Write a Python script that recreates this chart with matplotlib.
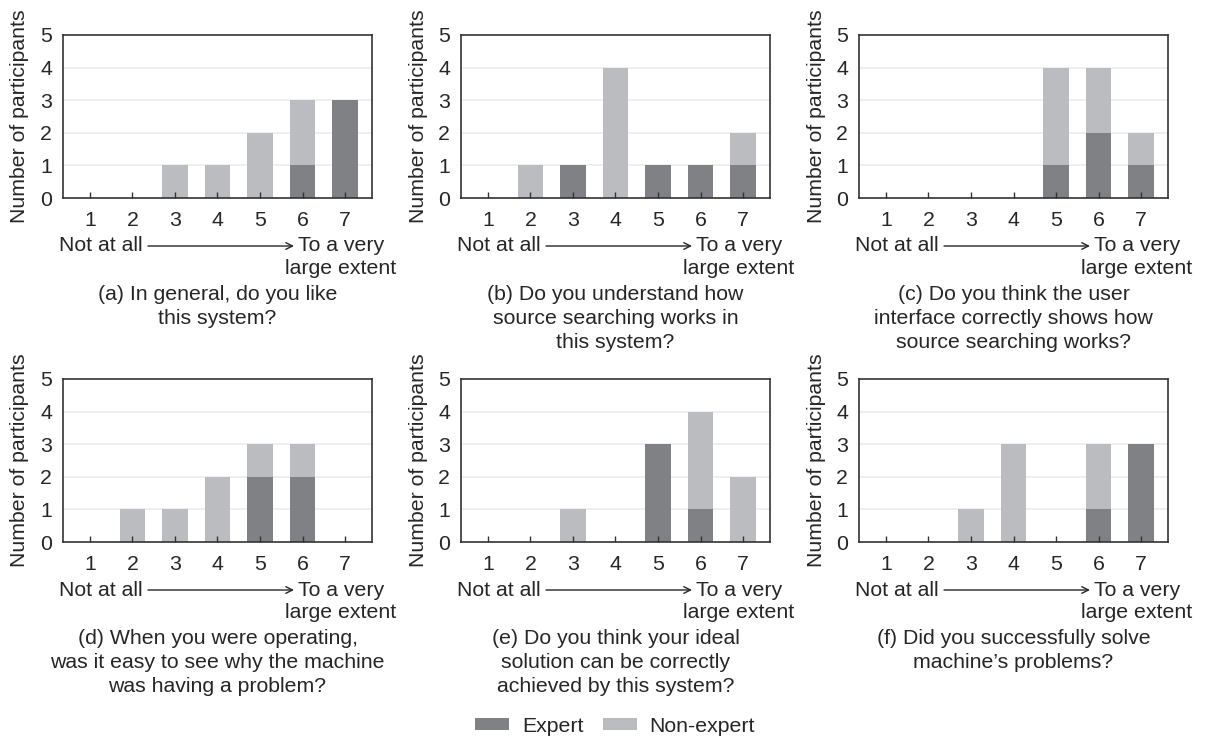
import matplotlib
matplotlib.use("Agg")
import matplotlib.pyplot as plt
from matplotlib.patches import Patch

plt.rcParams['font.family'] = ['Liberation Sans', 'DejaVu Sans']

W, H = 1205, 738

scale = [1, 2, 3, 4, 5, 6, 7]
expert = [
    [0, 0, 0, 0, 0, 1, 3],
    [0, 0, 1, 0, 1, 1, 1],
    [0, 0, 0, 0, 1, 2, 1],
    [0, 0, 0, 0, 2, 2, 0],
    [0, 0, 0, 0, 3, 1, 0],
    [0, 0, 0, 0, 0, 1, 3],
]
non_expert = [
    [0, 0, 1, 1, 2, 2, 0],
    [0, 1, 0, 4, 0, 0, 1],
    [0, 0, 0, 0, 3, 2, 1],
    [0, 1, 1, 2, 1, 1, 0],
    [0, 0, 1, 0, 0, 3, 2],
    [0, 0, 1, 3, 0, 2, 0],
]
captions = [
    ["(a) In general, do you like", "this system?"],
    ["(b) Do you understand how", "source searching works in", "this system?"],
    ["(c) Do you think the user", "interface correctly shows how", "source searching works?"],
    ["(d) When you were operating,", "was it easy to see why the machine", "was having a problem?"],
    ["(e) Do you think your ideal", "solution can be correctly", "achieved by this system?"],
    ["(f) Did you successfully solve", "machine\u2019s problems?"],
]
series_names = ["Expert", "Non-expert"]

C_EXP = "#808185"
C_NON = "#bbbcc0"
TXT = "#262626"
FS = 15.3

fig = plt.figure(figsize=(W / 100, H / 100), dpi=100)

lefts = [63, 461, 859]
tops = [35, 379]
aw, ah = 309, 163


def fx(px):
    return px / W


def fy(py):
    return 1 - py / H


for i in range(6):
    r, c = divmod(i, 3)
    L, T = lefts[c], tops[r]
    B = T + ah
    ax = fig.add_axes([fx(L), fy(B), aw / W, ah / H])
    for g in [1, 2, 3, 4]:
        ax.axhline(g, color="#ececec", lw=1.2, zorder=0)
    ax.bar(scale, expert[i], width=0.6, color=C_EXP, zorder=1)
    ax.bar(scale, non_expert[i], width=0.6, bottom=expert[i], color=C_NON, zorder=1)
    ax.set_xlim(0.37, 7.63)
    ax.set_ylim(0, 5)
    ax.set_xticks(scale)
    ax.set_yticks([0, 1, 2, 3, 4, 5])
    ax.tick_params(axis="x", direction="in", length=4, width=1, color="#333333",
                   labelsize=FS, labelcolor=TXT, pad=9)
    ax.tick_params(axis="y", length=0, labelsize=FS, labelcolor=TXT, pad=8)
    for s in ax.spines.values():
        s.set_color("#333333")
        s.set_linewidth(1.2)
    ax.set_axisbelow(False)
    # y label
    fig.text(fx(L - 43), fy(T + ah / 2), "Number of participants", rotation=90,
             ha="center", va="center", fontsize=FS, color=TXT)
    # scale annotation
    yrow = B + 48
    fig.text(fx(L - 4), fy(yrow), "Not at all", ha="left", va="center",
             fontsize=FS, color=TXT)
    ax.annotate("", xy=(fx(L + 231), fy(yrow)), xytext=(fx(L + 85), fy(yrow)),
                xycoords="figure fraction", textcoords="figure fraction",
                arrowprops=dict(arrowstyle="->", color=TXT, lw=1.0,
                                shrinkA=0, shrinkB=0, mutation_scale=12))
    fig.text(fx(L + 278), fy(yrow), "To a very", ha="center", va="center",
             fontsize=FS, color=TXT)
    fig.text(fx(L + 278), fy(yrow + 22), "large extent", ha="center", va="center",
             fontsize=FS, color=TXT)
    # caption
    for k, line in enumerate(captions[i]):
        fig.text(fx(L + aw / 2), fy(B + 97 + 24 * k), line, ha="center", va="center",
                 fontsize=FS, color=TXT)

handles = [Patch(facecolor=C_EXP, edgecolor="none"), Patch(facecolor=C_NON, edgecolor="none")]
fig.legend(handles, series_names, loc="center", bbox_to_anchor=(fx(615), fy(726)),
           ncol=2, frameon=False, fontsize=FS, handlelength=1.6, handleheight=0.45,
           handletextpad=0.6, columnspacing=0.9, labelcolor=TXT,
           borderpad=0, borderaxespad=0)

fig.savefig("out.png", dpi=100)
